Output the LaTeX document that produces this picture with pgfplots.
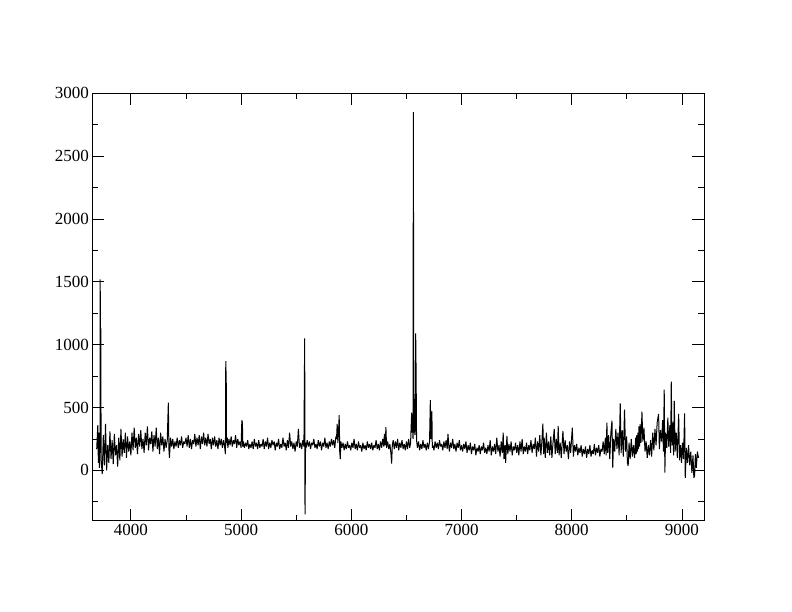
\documentclass[border=0pt]{standalone}
\usepackage{fontspec}
\setmainfont{Liberation Serif}
\usepackage{pgfplots}
\pgfplotsset{compat=1.18}
\begin{document}
\begin{tikzpicture}[font=\fontsize{17}{20}\selectfont]
\path[use as bounding box, fill=white] (-92.3pt,-91.3pt) rectangle (699.7pt,520.7pt);
\begin{axis}[
  at={(0pt,0pt)}, anchor=south west,
  width=611.7pt, height=427.4pt, scale only axis,
  xmin=3650, xmax=9200, ymin=-400, ymax=3000,
  xtick={4000,5000,...,9000}, minor xtick={4500,5500,...,8500},
  ytick={0,500,...,3000}, minor ytick={-250,250,750,...,2750},
  tick align=inside,
  major tick length=12pt, minor tick length=6pt,
  every tick/.style={black, line width=0.9pt},
  axis line style={line width=0.9pt},
  /pgf/number format/assume math mode=true,
  /pgf/number format/1000 sep={},
  scaled ticks=false,
]
\addplot[black, line width=1pt, line join=bevel] coordinates {
(3690,170) (3700,360) (3705,60) (3710,300) (3715,20) (3720,250) (3722,1520) (3724,180) (3727,1130) (3730,90)
(3740,-30) (3750,280) (3760,40) (3770,370) (3780,0) (3790,200) (3800,60) (3810,310) (3820,90) (3830,240)
(3840,50) (3850,290) (3860,120) (3870,200) (3880,30) (3890,260) (3900,80) (3910,330) (3920,110) (3930,250)
(3940,140) (3950,300) (3960,100) (3970,270) (3980,150) (3990,230) (4000,120)
(4010,300) (4020,160) (4030,340) (4040,180) (4050,260) (4060,130) (4070,290) (4080,190) (4090,320) (4100,170)
(4110,250) (4120,140) (4130,300) (4140,200) (4150,350) (4160,160) (4170,260) (4180,210) (4190,310) (4200,150)
(4210,280) (4220,190) (4230,340) (4240,170) (4250,260) (4260,130) (4270,300) (4280,200) (4290,270) (4300,150)
(4310,250) (4320,180) (4330,240) (4340,540) (4345,170) (4350,100) (4360,260) (4370,190) (4380,250) (4390,170)
(4400,230) (4410,190) (4420,260) (4430,180) (4440,240) (4450,200) (4460,270) (4470,180) (4480,230) (4490,210)
(4500,260) (4510,190) (4520,280) (4530,180) (4540,250) (4550,170) (4560,240) (4570,210) (4580,290) (4590,190)
(4600,260) (4610,200) (4620,280) (4630,170) (4640,270) (4650,210) (4660,300) (4670,200) (4680,260) (4690,190)
(4700,290) (4710,210) (4720,250) (4730,170) (4740,260) (4750,200) (4760,270) (4770,190) (4780,240) (4790,170)
(4800,260) (4810,200) (4820,250) (4830,180) (4840,240) (4850,190) (4858,130) (4861,870) (4863,200) (4865,790)
(4867,220) (4875,260)
(4880,180) (4890,250) (4900,200) (4910,270) (4920,190) (4930,240) (4940,210) (4950,280) (4960,180) (4970,250)
(4980,200) (4990,230) (5000,180) (5007,400) (5010,250) (5012,390) (5015,190) (5020,230) (5030,180) (5040,220)
(5050,190) (5060,240) (5070,170) (5080,210) (5090,180) (5100,230) (5110,170) (5120,250) (5130,190) (5140,220)
(5150,170) (5160,240) (5170,180) (5180,210) (5190,190) (5200,250) (5210,170) (5220,230) (5230,190) (5240,260)
(5250,170) (5260,220) (5270,180) (5280,240) (5290,200) (5300,230) (5310,160) (5320,220) (5330,190) (5340,250)
(5350,170) (5360,210) (5370,180) (5380,260) (5390,190) (5400,220) (5410,160) (5420,240) (5430,180) (5440,300)
(5450,190) (5460,230) (5470,170) (5480,220) (5490,150) (5500,230) (5510,190) (5520,330) (5530,180) (5540,220)
(5550,170) (5560,240) (5570,190) (5577,1050) (5580,-350) (5585,220)
(5590,180) (5600,240) (5610,190) (5620,230) (5630,170) (5640,220) (5650,200) (5660,250) (5670,180) (5680,210)
(5690,170) (5700,240) (5710,190) (5720,230) (5730,160) (5740,220) (5750,190) (5760,260) (5770,180) (5780,220)
(5790,170) (5800,230) (5810,190) (5820,250) (5830,200) (5840,240) (5850,180) (5860,270) (5866,250) (5872,370)
(5878,220) (5884,300) (5890,440) (5895,150) (5900,90) (5905,230) (5915,180) (5925,220) (5935,160) (5945,210)
(5955,170) (5965,230) (5975,180) (5985,200) (5995,160) (6005,220) (6015,180) (6025,250) (6035,170) (6045,210)
(6055,160) (6065,230) (6075,180) (6085,200) (6095,150) (6105,220) (6115,170) (6125,200) (6135,160) (6145,230)
(6155,180) (6165,210) (6175,170) (6185,220) (6195,160) (6205,200) (6215,180) (6225,240) (6235,170) (6245,210)
(6255,160) (6265,230) (6275,180) (6285,250) (6295,190) (6300,290) (6308,200) (6314,345) (6320,180) (6330,230)
(6340,170) (6350,210) (6360,130) (6366,55) (6372,200) (6380,240) (6390,170) (6400,230) (6410,180) (6420,250)
(6430,160) (6440,220) (6450,180) (6460,240) (6470,170) (6480,210) (6490,160) (6500,230) (6510,170) (6520,250)
(6530,180) (6538,220) (6543,350) (6548,460) (6552,300) (6556,380) (6560,250) (6563,2850) (6567,300) (6572,400)
(6578,280) (6584,1090) (6588,770) (6592,240) (6600,180) (6610,230) (6620,160) (6630,210) (6640,170) (6650,240)
(6660,180) (6670,210) (6680,160) (6690,220) (6700,170) (6710,230) (6717,560) (6723,250) (6731,470) (6735,180)
(6740,200) (6750,160) (6760,230) (6770,180) (6780,220) (6790,170) (6800,240) (6810,190) (6820,210) (6830,160)
(6840,230) (6850,180) (6860,240) (6870,170) (6877,290) (6885,190) (6890,150) (6900,220) (6910,180) (6920,250)
(6930,170) (6940,210) (6950,150) (6960,220) (6970,180) (6980,240) (6990,160) (7000,200) (7010,150) (7020,210)
(7030,170) (7040,230) (7050,140) (7060,200) (7070,160) (7080,220) (7090,130) (7100,190) (7110,160) (7120,210)
(7130,120) (7140,180) (7150,150) (7160,200) (7170,130) (7180,190) (7190,160) (7200,220) (7210,140) (7220,180)
(7230,130) (7240,200) (7250,150) (7260,240) (7270,120) (7280,190) (7290,150) (7300,210) (7310,130) (7320,260)
(7330,150) (7340,200) (7350,110) (7360,230) (7370,140) (7378,300) (7385,90) (7395,200) (7400,60) (7412,275)
(7420,130) (7430,210) (7440,150) (7450,230) (7460,120) (7470,190) (7480,160) (7490,220) (7500,140)
(7510,200) (7520,120) (7530,230) (7540,150) (7550,250) (7560,130) (7570,190) (7580,150) (7590,220) (7600,130)
(7610,200) (7620,160) (7630,240) (7640,140) (7650,210) (7660,170) (7670,260) (7680,110) (7690,230) (7700,150)
(7710,280) (7720,120) (7730,240) (7738,373) (7745,130) (7750,260) (7760,100) (7770,300) (7780,140) (7790,230)
(7800,120) (7810,270) (7820,100) (7830,220) (7841,330) (7850,130) (7860,250) (7870,140) (7877,355) (7885,120)
(7895,220) (7905,100) (7920,315) (7930,130) (7940,240) (7950,150) (7960,200) (7970,90) (7980,230) (7990,140)
(8005,340) (8015,110) (8025,200) (8035,150) (8045,210) (8055,120) (8065,180) (8075,140) (8085,200) (8095,110)
(8105,170) (8115,130) (8125,190) (8135,100) (8145,170) (8155,130) (8165,200) (8175,110) (8185,160) (8195,130)
(8205,210) (8215,120) (8225,180) (8235,140) (8245,200) (8255,110) (8265,170) (8275,150) (8285,230) (8295,130)
(8305,260) (8312,120) (8319,380) (8326,140) (8335,280) (8345,90) (8355,300) (8365,395) (8372,22) (8380,250)
(8390,150) (8400,330) (8410,170) (8420,300) (8430,120) (8440,533) (8448,140) (8458,320) (8468,110) (8479,483)
(8488,150) (8498,270) (8505,60) (8512,36) (8520,220) (8530,90) (8540,250) (8550,110) (8560,200) (8570,100)
(8580,260) (8585,130) (8590,280) (8595,150) (8600,300) (8605,170) (8610,350) (8615,190) (8620,370) (8628,220)
(8637,467) (8645,230) (8655,340) (8665,150) (8675,230) (8685,100) (8695,200) (8705,120) (8715,240) (8725,110)
(8735,300) (8745,160) (8755,330) (8765,200) (8775,380) (8788,450) (8795,170) (8805,320) (8815,230) (8825,400)
(8832,150) (8839,642) (8845,-18) (8852,300) (8862,180) (8872,420) (8880,190) (8890,360) (8897,140) (8903,706)
(8910,200) (8918,380) (8924,120) (8930,554) (8938,150) (8948,300) (8958,100) (8970,450) (8978,80) (8988,200)
(8996,60) (9005,220) (9014,90) (9024,453) (9030,-60) (9040,180) (9050,60) (9060,200) (9070,40) (9080,150)
(9090,-20) (9100,120) (9108,-60) (9115,-40) (9122,130) (9130,20) (9140,150) (9150,100)
};
\end{axis}
\end{tikzpicture}
\end{document}
